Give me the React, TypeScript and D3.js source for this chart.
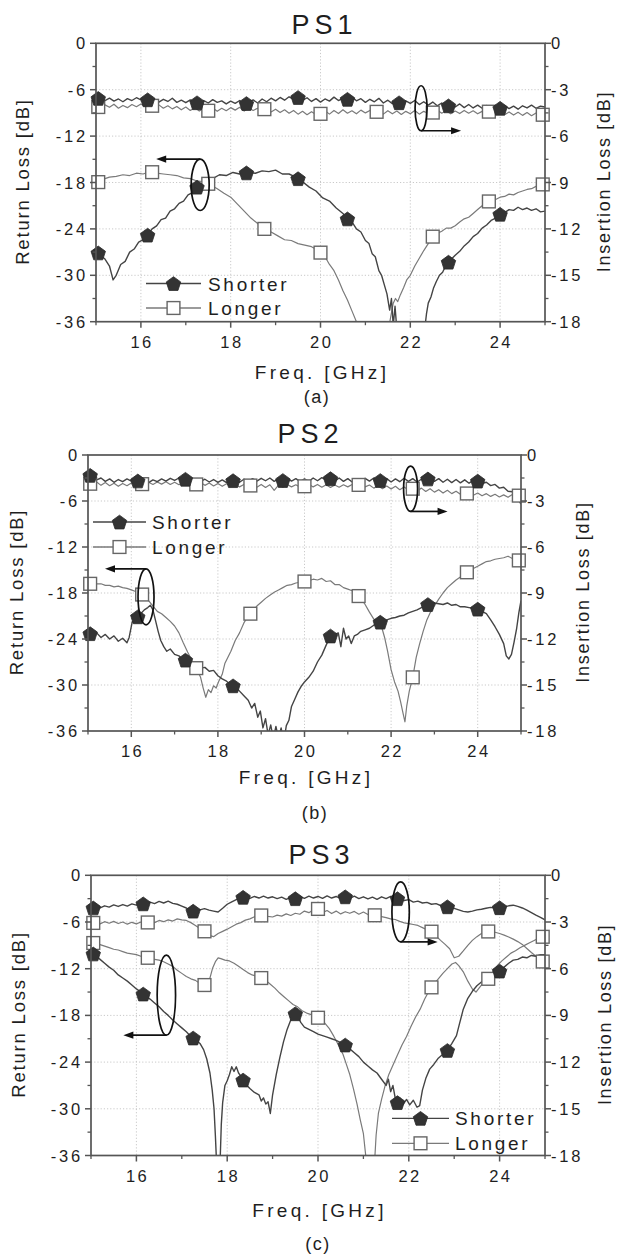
import React from "react";
import * as d3 from "d3";

// ---------------- DATA ----------------
const panelTitles = ["PS1", "PS2", "PS3"];
const panelCaptions = ["(a)", "(b)", "(c)"];
const seriesNames = ["Shorter", "Longer"];
const xTicks = [16, 18, 20, 22, 24];
const xMinorTicks = [15, 17, 19, 21, 23, 25];
const rlTicks = [0, -6, -12, -18, -24, -30, -36];
const rlMinorTicks = [-3, -9, -15, -21, -27, -33];
const ilTicks = [0, -3, -6, -9, -12, -15, -18];
const ilMinorTicks = [-1.5, -4.5, -7.5, -10.5, -13.5, -16.5];
const shorterMarkerFreqs = [15.05, 16.15, 17.25, 18.35, 19.5, 20.6, 21.75, 22.85, 24.0];
const longerMarkerFreqs = [15.05, 16.25, 17.5, 18.75, 20.0, 21.25, 22.5, 23.75, 24.95];

// insertion-loss traces sampled every 0.1 GHz from 15 to 25 GHz
const ilFreqs = d3.range(101).map((i) => +(15 + i * 0.1).toFixed(1));

const ps1ShorterIL = [-3.50,-3.62,-3.70,-3.55,-3.74,-3.60,-3.78,-3.58,-3.70,-3.52, -3.66,-3.58,-3.72,-3.60,-3.80,-3.62,-3.76,-3.55,-3.82,-3.68, -3.84,-3.66,-3.78,-3.90,-3.70,-3.86,-3.64,-3.82,-3.72,-3.92, -3.74,-3.88,-3.70,-3.94,-3.84,-3.66,-3.86,-3.60,-3.78,-3.55, -3.72,-3.50,-3.68,-3.46,-3.62,-3.50,-3.70,-3.52,-3.76,-3.58, -3.80,-3.60,-3.74,-3.48,-3.70,-3.55,-3.62,-3.46,-3.72,-3.58, -3.82,-3.62,-3.78,-3.56,-3.86,-3.68,-3.90,-3.76,-3.92,-3.72, -3.88,-3.70,-3.96,-3.78,-4.00,-3.80,-4.04,-3.86,-4.10,-3.98, -4.12,-3.92,-4.16,-3.96,-4.18,-4.00,-4.20,-4.02,-4.24,-4.06, -4.20,-4.02,-4.22,-4.06,-4.26,-4.04,-4.18,-4.00,-4.20,-4.06,-4.12];
const ps1LongerIL = [-4.06,-4.18,-3.98,-4.14,-3.94,-4.20,-4.02,-4.16,-3.96,-4.10, -3.92,-4.08,-3.96,-4.12,-3.98,-4.20,-4.04,-4.24,-4.08,-4.30, -4.12,-4.34,-4.16,-4.38,-4.22,-4.36,-4.18,-4.40,-4.20,-4.36, -4.16,-4.32,-4.14,-4.38,-4.18,-4.34,-4.20,-4.30,-4.22,-4.44, -4.26,-4.48,-4.30,-4.52,-4.34,-4.58,-4.40,-4.62,-4.42,-4.60, -4.56,-4.36,-4.58,-4.34,-4.54,-4.30,-4.52,-4.36,-4.56,-4.32, -4.50,-4.34,-4.46,-4.40,-4.58,-4.36,-4.56,-4.38,-4.60,-4.40, -4.56,-4.34,-4.58,-4.40,-4.54,-4.48,-4.32,-4.52,-4.36,-4.56, -4.38,-4.54,-4.34,-4.52,-4.36,-4.56,-4.40,-4.46,-4.38,-4.58, -4.42,-4.62,-4.44,-4.64,-4.46,-4.66,-4.48,-4.68,-4.50,-4.64,-4.60];

const ps2ShorterIL = [-1.20,-1.45,-1.62,-1.50,-1.72,-1.56,-1.78,-1.60,-1.74,-1.56, -1.70,-1.62,-1.76,-1.58,-1.80,-1.62,-1.74,-1.56,-1.70,-1.52, -1.66,-1.50,-1.64,-1.52,-1.70,-1.56,-1.74,-1.58,-1.76,-1.60, -1.78,-1.62,-1.80,-1.74,-1.60,-1.78,-1.58,-1.74,-1.54,-1.70, -1.52,-1.68,-1.50,-1.72,-1.56,-1.66,-1.50,-1.70,-1.54,-1.74, -1.56,-1.72,-1.50,-1.68,-1.48,-1.64,-1.54,-1.70,-1.50,-1.72, -1.54,-1.76,-1.56,-1.74,-1.52,-1.70,-1.50,-1.60,-1.72,-1.54, -1.76,-1.56,-1.74,-1.52,-1.72,-1.54,-1.76,-1.58,-1.62,-1.50, -1.72,-1.54,-1.78,-1.58,-1.80,-1.60,-1.82,-1.62,-1.84,-1.66, -1.70,-1.86,-1.78,-2.00,-1.92,-2.16,-2.10,-2.36,-2.40,-2.76,-3.20];
const ps2LongerIL = [-1.80,-1.95,-1.76,-1.98,-1.80,-2.00,-1.84,-2.04,-1.86,-2.00, -1.82,-1.98,-1.86,-1.94,-1.78,-1.92,-1.76,-1.90,-1.74,-1.92, -1.78,-1.94,-1.80,-1.96,-1.84,-1.92,-1.80,-1.98,-1.82,-2.02, -1.86,-2.04,-1.88,-2.06,-1.90,-2.08,-1.92,-2.04,-1.94,-2.10, -1.92,-2.12,-1.94,-2.30,-1.96,-2.10,-1.92,-2.08,-1.94,-2.10, -2.04,-1.90,-2.08,-1.92,-2.10,-1.94,-2.12,-1.96,-2.10,-1.94, -2.08,-1.92,-2.00,-1.90,-2.08,-1.96,-2.16,-2.00,-2.20,-2.02, -2.22,-2.04,-2.26,-2.08,-2.28,-2.20,-2.34,-2.16,-2.38,-2.20, -2.42,-2.26,-2.48,-2.30,-2.52,-2.36,-2.56,-2.58,-2.44,-2.62, -2.48,-2.66,-2.52,-2.70,-2.56,-2.74,-2.60,-2.76,-2.58,-2.50,-2.80];

const ps3ShorterIL = [-2.15,-2.04,-2.10,-1.96,-2.04,-1.90,-2.00,-1.88,-1.98,-1.84, -1.92,-1.80,-1.86,-1.72,-1.82,-1.68,-1.78,-1.66,-1.80,-1.86, -1.98,-2.10,-2.28,-2.32,-2.22,-2.14,-2.24,-2.30,-2.36,-2.12, -1.86,-1.70,-1.56,-1.44,-1.38,-1.48,-1.36,-1.46,-1.34,-1.46, -1.38,-1.50,-1.40,-1.54,-1.42,-1.50,-1.36,-1.48,-1.34,-1.46, -1.36,-1.48,-1.32,-1.46,-1.36,-1.50,-1.38,-1.48,-1.34,-1.50, -1.38,-1.52,-1.40,-1.54,-1.38,-1.50,-1.36,-1.52,-1.48,-1.62, -1.56,-1.72,-1.66,-1.78,-1.74,-1.86,-1.82,-1.94,-1.98,-2.06, -2.12,-2.22,-2.32,-2.36,-2.30,-2.22,-2.18,-2.12,-2.06,-2.10, -2.08,-2.02,-1.96,-1.92,-2.00,-2.10,-2.24,-2.40,-2.56,-2.70,-2.86];
const ps3LongerIL = [-3.10,-3.02,-3.12,-2.98,-3.08,-2.96,-3.10,-3.00,-3.14,-3.02, -3.12,-3.00,-3.10,-2.96,-3.04,-2.90,-2.98,-2.86,-2.94,-2.80, -2.86,-2.90,-3.04,-3.22,-3.42,-3.60,-3.86,-3.94,-3.74,-3.60, -3.46,-3.30,-3.14,-3.04,-2.88,-2.80,-2.66,-2.60,-2.56,-2.64, -2.68,-2.56,-2.62,-2.48,-2.58,-2.44,-2.50,-2.30,-2.40,-2.22, -2.16,-2.40,-2.26,-2.46,-2.30,-2.48,-2.34,-2.44,-2.32,-2.50, -2.36,-2.52,-2.54,-2.60,-2.66,-2.72,-2.80,-2.84,-2.96,-3.06, -3.10,-3.16,-3.22,-3.36,-3.50,-3.62,-3.90,-4.18,-4.44,-4.72, -5.30,-5.20,-4.86,-4.50,-4.18,-3.94,-3.74,-3.62,-3.60,-3.66, -3.74,-3.84,-3.96,-4.10,-4.26,-4.44,-4.70,-4.96,-5.20,-5.44,-5.64];

// return-loss traces: [frequency GHz, dB]
const ps1ShorterRL: [number, number][] = [[15.0,-26.8],[15.1,-27.4],[15.2,-27.9],[15.3,-28.8],[15.38,-30.6],[15.45,-30.0],[15.55,-28.6],[15.65,-28.2],[15.75,-27.0],[15.85,-26.6],[15.95,-25.7],[16.05,-25.4],[16.15,-24.8],[16.25,-24.0],[16.35,-23.6],[16.45,-22.8],[16.55,-22.6],[16.65,-21.7],[16.75,-21.4],[16.85,-20.7],[16.95,-20.4],[17.05,-19.6],[17.15,-19.3],[17.25,-18.6],[17.35,-18.3],[17.45,-17.8],[17.6,-17.5],[17.75,-17.0],[17.9,-17.1],[18.05,-16.7],[18.2,-16.9],[18.4,-16.7],[18.55,-16.8],[18.7,-16.5],[18.85,-16.6],[19.0,-16.4],[19.15,-16.9],[19.3,-16.9],[19.45,-17.3],[19.6,-17.9],[19.75,-18.6],[19.9,-19.1],[20.05,-20.0],[20.2,-20.4],[20.35,-21.3],[20.5,-22.0],[20.6,-22.7],[20.7,-23.1],[20.8,-24.0],[20.9,-24.4],[21.0,-25.5],[21.08,-25.9],[21.15,-27.2],[21.22,-27.6],[21.3,-29.4],[21.36,-30.0],[21.42,-31.2],[21.48,-32.4],[21.54,-34.5],[21.58,-33.0],[21.62,-36.5],[21.66,-34.0],[21.7,-37.0],[21.74,-36.5],[21.78,-38.0],[22.3,-38.0],[22.36,-35.0],[22.4,-33.6],[22.46,-32.8],[22.52,-31.6],[22.58,-30.8],[22.65,-30.0],[22.72,-29.6],[22.8,-28.6],[22.9,-28.0],[23.0,-27.4],[23.1,-26.9],[23.2,-26.2],[23.3,-25.7],[23.4,-25.0],[23.5,-24.6],[23.6,-23.9],[23.7,-23.5],[23.8,-22.9],[23.9,-22.6],[24.0,-22.1],[24.1,-21.9],[24.2,-21.5],[24.3,-21.6],[24.4,-21.2],[24.5,-21.5],[24.6,-21.3],[24.7,-21.6],[24.8,-21.4],[24.9,-21.8],[25.0,-21.7]];
const ps1LongerRL: [number, number][] = [[15.0,-18.1],[15.1,-17.8],[15.2,-17.5],[15.3,-17.3],[15.45,-17.2],[15.6,-17.0],[15.75,-17.1],[15.9,-16.8],[16.05,-16.9],[16.2,-16.6],[16.35,-16.8],[16.5,-16.9],[16.65,-17.0],[16.8,-17.1],[16.95,-17.4],[17.1,-17.5],[17.25,-17.8],[17.4,-17.9],[17.55,-18.3],[17.7,-18.8],[17.85,-19.4],[18.0,-19.9],[18.15,-20.8],[18.3,-21.7],[18.45,-22.6],[18.6,-23.3],[18.75,-24.0],[18.9,-24.4],[19.05,-24.9],[19.2,-25.4],[19.35,-25.5],[19.5,-25.9],[19.65,-26.1],[19.8,-26.3],[19.95,-26.8],[20.1,-27.6],[20.2,-28.6],[20.3,-29.4],[20.4,-30.6],[20.5,-32.0],[20.6,-33.2],[20.7,-34.6],[20.8,-36.0],[20.9,-37.5],[21.5,-37.5],[21.56,-35.5],[21.62,-33.6],[21.67,-33.0],[21.72,-33.4],[21.78,-32.5],[21.85,-31.6],[21.92,-30.6],[22.0,-30.0],[22.1,-28.8],[22.2,-27.8],[22.3,-26.8],[22.4,-25.9],[22.5,-25.0],[22.6,-24.6],[22.7,-24.3],[22.8,-23.9],[22.9,-23.9],[23.0,-23.6],[23.1,-23.1],[23.2,-22.7],[23.3,-22.5],[23.4,-22.0],[23.5,-21.5],[23.6,-21.0],[23.7,-20.6],[23.8,-20.3],[23.9,-20.2],[24.0,-19.9],[24.1,-19.8],[24.2,-19.5],[24.3,-19.6],[24.4,-19.3],[24.5,-19.1],[24.6,-18.9],[24.7,-18.8],[24.8,-18.5],[24.9,-18.4],[25.0,-18.1]];

const ps2ShorterRL: [number, number][] = [[15.0,-23.0],[15.1,-23.6],[15.2,-23.2],[15.3,-23.8],[15.4,-23.4],[15.5,-24.0],[15.6,-23.6],[15.7,-24.3],[15.8,-23.9],[15.9,-24.5],[15.95,-23.8],[16.02,-21.8],[16.1,-21.4],[16.2,-20.8],[16.3,-20.2],[16.38,-19.9],[16.44,-19.6],[16.5,-20.2],[16.56,-21.6],[16.62,-23.0],[16.68,-24.2],[16.75,-25.0],[16.82,-25.6],[16.9,-25.3],[17.0,-26.0],[17.1,-26.2],[17.2,-26.7],[17.3,-26.8],[17.4,-27.2],[17.5,-27.3],[17.6,-27.8],[17.7,-27.7],[17.8,-28.2],[17.9,-28.1],[18.0,-28.8],[18.1,-29.2],[18.2,-29.5],[18.3,-30.0],[18.4,-30.2],[18.5,-30.8],[18.6,-31.4],[18.7,-32.0],[18.78,-33.0],[18.85,-32.4],[18.92,-34.2],[18.98,-33.4],[19.04,-35.6],[19.1,-34.4],[19.16,-36.5],[19.22,-35.2],[19.28,-37.0],[19.34,-35.4],[19.4,-37.0],[19.46,-35.6],[19.52,-37.5],[19.58,-35.3],[19.64,-34.6],[19.7,-32.8],[19.78,-31.8],[19.85,-30.9],[19.92,-30.2],[20.0,-29.6],[20.1,-29.0],[20.2,-28.2],[20.3,-27.0],[20.4,-26.1],[20.5,-24.8],[20.6,-23.6],[20.7,-23.4],[20.78,-23.2],[20.84,-25.0],[20.9,-22.6],[20.96,-24.0],[21.02,-23.6],[21.08,-24.6],[21.15,-23.6],[21.22,-23.4],[21.3,-23.0],[21.4,-22.8],[21.5,-22.6],[21.6,-22.2],[21.7,-21.9],[21.8,-21.7],[21.9,-21.5],[22.0,-21.3],[22.1,-21.2],[22.2,-21.0],[22.3,-20.9],[22.4,-20.6],[22.5,-20.4],[22.6,-20.2],[22.7,-19.9],[22.8,-19.6],[22.9,-19.4],[23.0,-19.3],[23.1,-19.4],[23.2,-19.5],[23.3,-19.3],[23.4,-19.6],[23.5,-19.5],[23.6,-19.8],[23.7,-19.8],[23.8,-19.9],[23.9,-20.0],[24.0,-20.1],[24.1,-20.4],[24.2,-20.7],[24.3,-21.5],[24.4,-22.4],[24.5,-23.4],[24.6,-24.6],[24.66,-26.2],[24.72,-26.6],[24.78,-26.0],[24.84,-24.4],[24.9,-22.6],[24.95,-20.6],[25.0,-19.0]];
const ps2LongerRL: [number, number][] = [[15.0,-16.9],[15.1,-16.7],[15.2,-16.8],[15.3,-16.8],[15.4,-17.0],[15.5,-17.0],[15.6,-17.2],[15.7,-17.1],[15.8,-17.3],[15.9,-17.4],[16.0,-17.6],[16.1,-17.8],[16.2,-18.0],[16.3,-18.4],[16.4,-19.0],[16.5,-19.7],[16.6,-20.4],[16.7,-20.7],[16.8,-21.2],[16.9,-21.7],[17.0,-22.3],[17.1,-23.2],[17.2,-24.5],[17.3,-25.7],[17.4,-26.8],[17.5,-27.8],[17.6,-29.0],[17.66,-30.4],[17.72,-31.6],[17.78,-30.6],[17.84,-31.0],[17.9,-30.1],[17.96,-30.4],[18.02,-29.5],[18.1,-28.6],[18.16,-27.2],[18.22,-26.5],[18.3,-25.6],[18.4,-24.2],[18.5,-23.2],[18.6,-21.9],[18.7,-21.0],[18.8,-20.4],[18.9,-19.7],[19.0,-19.2],[19.1,-18.7],[19.2,-18.3],[19.3,-17.9],[19.4,-17.6],[19.5,-17.3],[19.6,-17.0],[19.7,-16.9],[19.8,-16.7],[19.9,-16.6],[20.0,-16.5],[20.1,-16.4],[20.2,-16.2],[20.3,-16.3],[20.4,-16.1],[20.5,-16.5],[20.6,-16.4],[20.7,-16.9],[20.8,-16.9],[20.9,-17.3],[21.0,-17.5],[21.1,-17.7],[21.2,-18.1],[21.3,-18.7],[21.4,-19.5],[21.5,-20.5],[21.6,-21.4],[21.7,-21.9],[21.78,-22.4],[21.85,-23.8],[21.92,-25.6],[22.0,-28.0],[22.08,-29.6],[22.16,-30.8],[22.22,-32.2],[22.28,-33.8],[22.32,-34.8],[22.36,-32.8],[22.42,-30.8],[22.5,-29.0],[22.58,-26.4],[22.66,-24.6],[22.74,-23.0],[22.82,-21.6],[22.9,-20.6],[23.0,-19.7],[23.1,-18.8],[23.2,-18.0],[23.3,-17.3],[23.4,-16.8],[23.5,-16.3],[23.6,-15.9],[23.7,-15.5],[23.8,-15.1],[23.9,-14.8],[24.0,-14.5],[24.1,-14.2],[24.2,-13.9],[24.3,-13.8],[24.4,-13.6],[24.5,-13.5],[24.6,-13.4],[24.7,-13.2],[24.8,-13.5],[24.9,-13.7],[25.0,-13.8]];

const ps3ShorterRL: [number, number][] = [[15.0,-9.9],[15.1,-10.3],[15.2,-10.8],[15.3,-11.3],[15.4,-11.8],[15.5,-12.2],[15.6,-12.8],[15.7,-13.2],[15.8,-13.6],[15.9,-14.1],[16.0,-14.6],[16.1,-15.0],[16.2,-15.5],[16.3,-15.9],[16.4,-16.4],[16.5,-16.9],[16.6,-17.5],[16.7,-18.0],[16.8,-18.6],[16.9,-19.1],[17.0,-19.6],[17.1,-20.1],[17.2,-20.7],[17.3,-21.1],[17.4,-21.6],[17.48,-22.4],[17.55,-23.6],[17.62,-25.4],[17.67,-27.6],[17.71,-30.0],[17.74,-33.5],[17.77,-37.5],[17.84,-37.5],[17.87,-32.0],[17.9,-29.2],[17.95,-27.0],[18.0,-26.4],[18.05,-25.6],[18.1,-24.6],[18.15,-25.2],[18.2,-24.6],[18.25,-25.4],[18.3,-25.8],[18.4,-26.8],[18.5,-27.4],[18.6,-27.9],[18.7,-28.2],[18.75,-29.0],[18.8,-28.6],[18.85,-29.4],[18.9,-29.1],[18.95,-30.6],[19.0,-28.2],[19.08,-25.6],[19.16,-23.4],[19.24,-21.4],[19.32,-19.8],[19.4,-18.6],[19.48,-17.7],[19.55,-18.0],[19.62,-18.9],[19.7,-19.5],[19.8,-19.8],[19.9,-20.1],[20.0,-20.4],[20.1,-20.6],[20.2,-20.8],[20.3,-21.0],[20.4,-21.2],[20.5,-21.5],[20.6,-21.8],[20.7,-22.3],[20.8,-22.8],[20.9,-23.3],[21.0,-24.0],[21.1,-24.5],[21.2,-25.0],[21.3,-25.4],[21.4,-26.2],[21.5,-27.0],[21.55,-26.2],[21.6,-27.8],[21.65,-27.0],[21.7,-28.6],[21.75,-29.2],[21.8,-28.6],[21.88,-29.4],[21.95,-28.8],[22.02,-29.5],[22.1,-28.9],[22.18,-29.8],[22.24,-29.6],[22.3,-27.6],[22.38,-26.0],[22.46,-24.9],[22.55,-24.3],[22.65,-23.5],[22.75,-23.0],[22.85,-22.5],[22.95,-21.6],[23.05,-20.6],[23.12,-19.0],[23.2,-17.2],[23.3,-15.8],[23.4,-14.9],[23.5,-14.2],[23.6,-13.7],[23.7,-13.2],[23.8,-12.8],[23.9,-12.6],[24.0,-12.3],[24.1,-11.8],[24.2,-11.3],[24.3,-10.9],[24.4,-10.8],[24.5,-10.5],[24.6,-10.6],[24.7,-10.3],[24.8,-10.4],[24.9,-10.2],[25.0,-10.2]];
const ps3LongerRL: [number, number][] = [[15.0,-8.6],[15.1,-8.8],[15.2,-8.9],[15.3,-9.1],[15.4,-9.3],[15.5,-9.5],[15.6,-9.6],[15.7,-9.8],[15.8,-10.0],[15.9,-10.1],[16.0,-10.2],[16.1,-10.4],[16.2,-10.5],[16.3,-10.7],[16.4,-10.8],[16.5,-10.9],[16.6,-11.1],[16.7,-11.4],[16.8,-11.7],[16.9,-12.2],[17.0,-12.6],[17.1,-13.0],[17.2,-13.3],[17.3,-13.5],[17.4,-13.9],[17.5,-14.1],[17.56,-14.4],[17.62,-13.2],[17.68,-11.9],[17.74,-11.1],[17.8,-10.6],[17.86,-10.7],[17.95,-10.9],[18.05,-11.0],[18.15,-11.3],[18.25,-11.7],[18.35,-12.1],[18.45,-12.5],[18.55,-12.8],[18.65,-13.0],[18.75,-13.2],[18.85,-13.5],[18.95,-14.0],[19.05,-14.5],[19.15,-15.1],[19.25,-15.6],[19.35,-16.1],[19.45,-16.6],[19.55,-16.9],[19.65,-17.4],[19.75,-17.7],[19.85,-17.9],[19.95,-18.2],[20.05,-18.4],[20.15,-19.0],[20.25,-19.7],[20.35,-20.7],[20.45,-21.8],[20.55,-23.0],[20.62,-24.2],[20.7,-25.6],[20.78,-27.4],[20.86,-29.4],[20.93,-31.4],[21.0,-33.2],[21.04,-35.4],[21.08,-37.5],[21.24,-37.5],[21.28,-33.4],[21.33,-30.6],[21.4,-28.8],[21.48,-27.0],[21.56,-25.6],[21.65,-24.4],[21.75,-23.1],[21.85,-21.8],[21.95,-20.7],[22.05,-19.4],[22.15,-18.2],[22.25,-17.2],[22.35,-15.9],[22.45,-14.8],[22.55,-14.0],[22.65,-13.3],[22.75,-12.6],[22.85,-12.0],[22.95,-11.4],[23.03,-11.2],[23.1,-11.6],[23.2,-12.4],[23.3,-13.6],[23.4,-14.6],[23.48,-15.0],[23.56,-14.4],[23.66,-13.7],[23.75,-13.3],[23.85,-12.4],[23.95,-11.6],[24.05,-11.0],[24.15,-10.5],[24.25,-10.0],[24.35,-9.7],[24.45,-9.3],[24.55,-9.0],[24.65,-8.7],[24.75,-8.4],[24.85,-8.1],[24.95,-7.9],[25.0,-7.8]];

// ---------------- LAYOUT / STYLE ----------------
const W = 617;
const H = 1256;
const FONT = "'Liberation Sans', Arial, Helvetica, sans-serif";
const SHORT_LINE = "#444";
const LONG_LINE = "#7a7a7a";

type Ann = { f: number; v: number; rx: number; ry: number; from: "top" | "bottom"; dir: 1 | -1; len: number };
type Layout = {
  left: number; right: number; top: number; bottom: number;
  titleX: number; titleY: number; xLabelY: number; captionX: number; captionY: number;
  yTitleX: number; y2TitleX: number;
  legend: { x0: number; x1: number; rows: number[]; textX: number };
  ann: Ann[];
};

const layouts: Layout[] = [
  {
    left: 96, right: 545, top: 43.3, bottom: 321.7, titleX: 322, titleY: 34, xLabelY: 379,
    captionX: 316, captionY: 403, yTitleX: 22, y2TitleX: 604,
    legend: { x0: 146, x1: 201, rows: [283.5, 308], textX: 208 },
    ann: [
      { f: 22.24, v: -8.4, rx: 6, ry: 22.5, from: "bottom", dir: 1, len: 40 },
      { f: 17.32, v: -18.3, rx: 9, ry: 25.7, from: "top", dir: -1, len: 44 },
    ],
  },
  {
    left: 88, right: 521, top: 455, bottom: 731, titleX: 308, titleY: 443, xLabelY: 784,
    captionX: 314, captionY: 819, yTitleX: 16, y2TitleX: 583,
    legend: { x0: 93, x1: 146, rows: [522, 547], textX: 152 },
    ann: [
      { f: 22.45, v: -4.4, rx: 7, ry: 22.7, from: "bottom", dir: 1, len: 37 },
      { f: 16.34, v: -18.5, rx: 8, ry: 28, from: "top", dir: -1, len: 41 },
    ],
  },
  {
    left: 91, right: 545, top: 875.3, bottom: 1155.5, titleX: 319, titleY: 864, xLabelY: 1217,
    captionX: 317, captionY: 1250, yTitleX: 18, y2TitleX: 605,
    legend: { x0: 392, x1: 449, rows: [1118.3, 1143.3], textX: 455 },
    ann: [
      { f: 21.82, v: -4.7, rx: 8.7, ry: 30, from: "bottom", dir: 1, len: 37 },
      { f: 16.66, v: -15.4, rx: 9.2, ry: 40, from: "bottom", dir: -1, len: 43 },
    ],
  },
];

const panelData = [
  { sRL: ps1ShorterRL, lRL: ps1LongerRL, sIL: ps1ShorterIL, lIL: ps1LongerIL },
  { sRL: ps2ShorterRL, lRL: ps2LongerRL, sIL: ps2ShorterIL, lIL: ps2LongerIL },
  { sRL: ps3ShorterRL, lRL: ps3LongerRL, sIL: ps3ShorterIL, lIL: ps3LongerIL },
];

function valueAt(pts: [number, number][], f: number): number {
  const i = d3.bisector((d: [number, number]) => d[0]).left(pts, f);
  if (i <= 0) return pts[0][1];
  if (i >= pts.length) return pts[pts.length - 1][1];
  const [f0, v0] = pts[i - 1];
  const [f1, v1] = pts[i];
  return v0 + ((v1 - v0) * (f - f0)) / (f1 - f0);
}

function pentagon(cx: number, cy: number, r: number): string {
  const pts = d3.range(5).map((k) => {
    const a = ((-90 + k * 72) * Math.PI) / 180;
    return [cx + r * Math.cos(a), cy + r * Math.sin(a)];
  });
  return "M" + pts.map((p) => p.join(",")).join("L") + "Z";
}

function Pent({ x, y }: { x: number; y: number }) {
  return <path d={pentagon(x, y + 0.8, 7.6)} fill="#333" stroke="#2a2a2a" strokeWidth={0.8} />;
}
function Sq({ x, y }: { x: number; y: number }) {
  return <rect x={x - 6.4} y={y - 6.4} width={12.8} height={12.8} fill="#fff" stroke="#666" strokeWidth={1.4} />;
}

const txt = { fontFamily: FONT, fill: "#1e1e1e" } as const;

function Panel({ idx }: { idx: number }) {
  const L = layouts[idx];
  const D = panelData[idx];
  const x = d3.scaleLinear().domain([15, 25]).range([L.left, L.right]);
  const yL = d3.scaleLinear().domain([-36, 0]).range([L.bottom, L.top]);
  const yR = d3.scaleLinear().domain([-18, 0]).range([L.bottom, L.top]);

  const lineL = d3.line<[number, number]>().x((d) => x(d[0])).y((d) => yL(d[1]));
  const ilPts = (arr: number[]) => arr.map((v, i) => [ilFreqs[i], v] as [number, number]);
  const lineR = d3.line<[number, number]>().x((d) => x(d[0])).y((d) => yR(d[1]));

  const sILpts = ilPts(D.sIL);
  const lILpts = ilPts(D.lIL);
  const clipId = `clip${idx}`;
  const cx = (L.left + L.right) / 2;
  const cy = (L.top + L.bottom) / 2;

  const markers: React.ReactNode[] = [];
  const addMarkers = (pts: [number, number][], freqs: number[], scale: (v: number) => number, min: number, kind: "s" | "l", key: string) => {
    freqs.forEach((f, i) => {
      const v = valueAt(pts, f);
      if (v < min) return;
      const px = x(f);
      const py = scale(v);
      markers.push(kind === "s" ? <Pent key={key + i} x={px} y={py} /> : <Sq key={key + i} x={px} y={py} />);
    });
  };
  addMarkers(lILpts, longerMarkerFreqs, yR, -18, "l", "lil");
  addMarkers(D.lRL, longerMarkerFreqs, yL, -36, "l", "lrl");
  addMarkers(sILpts, shorterMarkerFreqs, yR, -18, "s", "sil");
  addMarkers(D.sRL, shorterMarkerFreqs, yL, -36, "s", "srl");

  return (
    <g>
      <defs>
        <clipPath id={clipId}>
          <rect x={L.left} y={L.top} width={L.right - L.left} height={L.bottom - L.top} />
        </clipPath>
      </defs>
      {/* grid */}
      {xTicks.map((t) => (
        <line key={"gx" + t} x1={x(t)} x2={x(t)} y1={L.top} y2={L.bottom} stroke="#c9c9c9" strokeWidth={1} strokeDasharray="1.2,2" />
      ))}
      {rlTicks.slice(1, -1).map((t) => (
        <line key={"gy" + t} x1={L.left} x2={L.right} y1={yL(t)} y2={yL(t)} stroke="#c9c9c9" strokeWidth={1} strokeDasharray="1.2,2" />
      ))}
      {/* curves */}
      <g clipPath={`url(#${clipId})`} fill="none" strokeLinejoin="round">
        <path d={lineL(D.lRL) || ""} stroke={LONG_LINE} strokeWidth={1.2} />
        <path d={lineR(lILpts) || ""} stroke={LONG_LINE} strokeWidth={1.2} />
        <path d={lineL(D.sRL) || ""} stroke={SHORT_LINE} strokeWidth={1.4} />
        <path d={lineR(sILpts) || ""} stroke={SHORT_LINE} strokeWidth={1.4} />
      </g>
      {markers}
      {/* frame */}
      <rect x={L.left} y={L.top} width={L.right - L.left} height={L.bottom - L.top} fill="none" stroke="#555" strokeWidth={1.7} />
      {/* ticks */}
      {xTicks.map((t) => (
        <line key={"tx" + t} x1={x(t)} x2={x(t)} y1={L.bottom} y2={L.bottom + 6} stroke="#555" strokeWidth={1.5} />
      ))}
      {xMinorTicks.map((t) => (
        <line key={"mx" + t} x1={x(t)} x2={x(t)} y1={L.bottom} y2={L.bottom + 3.5} stroke="#555" strokeWidth={1.3} />
      ))}
      {rlTicks.map((t) => (
        <line key={"tl" + t} x1={L.left - 6} x2={L.left} y1={yL(t)} y2={yL(t)} stroke="#555" strokeWidth={1.5} />
      ))}
      {rlMinorTicks.map((t) => (
        <line key={"ml" + t} x1={L.left - 3.5} x2={L.left} y1={yL(t)} y2={yL(t)} stroke="#555" strokeWidth={1.3} />
      ))}
      {ilTicks.map((t) => (
        <line key={"tr" + t} x1={L.right} x2={L.right + 6} y1={yR(t)} y2={yR(t)} stroke="#555" strokeWidth={1.5} />
      ))}
      {ilMinorTicks.map((t) => (
        <line key={"mr" + t} x1={L.right} x2={L.right + 3.5} y1={yR(t)} y2={yR(t)} stroke="#555" strokeWidth={1.3} />
      ))}
      {/* tick labels */}
      {xTicks.map((t) => (
        <text key={"lx" + t} x={x(t) + 1.2} y={L.bottom + 26} textAnchor="middle" fontSize={16.5} letterSpacing={2.4} style={txt}>
          {t}
        </text>
      ))}
      {rlTicks.map((t) => (
        <text key={"ll" + t} x={L.left - 8} y={yL(t) + 6} textAnchor="end" fontSize={16.5} letterSpacing={2.8} style={txt}>
          {t}
        </text>
      ))}
      {ilTicks.map((t) => (
        <text key={"lr" + t} x={L.right + 6} y={yR(t) + 6} textAnchor="start" fontSize={16.5} letterSpacing={2.8} style={txt}>
          {t}
        </text>
      ))}
      {/* titles */}
      <text x={L.titleX + 2.5} y={L.titleY} textAnchor="middle" fontSize={27} letterSpacing={5} style={txt}>
        {panelTitles[idx]}
      </text>
      <text x={cx + 1.5} y={L.xLabelY} textAnchor="middle" fontSize={19} letterSpacing={3.3} style={txt}>
        Freq. [GHz]
      </text>
      <text x={L.captionX + 1} y={L.captionY} textAnchor="middle" fontSize={18} letterSpacing={1.5} style={txt}>
        {panelCaptions[idx]}
      </text>
      <text transform={`translate(${L.yTitleX},${cy}) rotate(-90)`} x={1} y={6.8} textAnchor="middle" fontSize={18.5} letterSpacing={1.8} style={txt}>
        Return Loss [dB]
      </text>
      <text transform={`translate(${L.y2TitleX},${cy}) rotate(-90)`} x={1} y={6.3} textAnchor="middle" fontSize={18} letterSpacing={1.7} style={txt}>
        Insertion Loss [dB]
      </text>
      {/* legend */}
      {seriesNames.map((name, i) => {
        const ry = L.legend.rows[i];
        const mx = (L.legend.x0 + L.legend.x1) / 2;
        return (
          <g key={name}>
            <line x1={L.legend.x0} x2={L.legend.x1} y1={ry} y2={ry} stroke={i === 0 ? SHORT_LINE : LONG_LINE} strokeWidth={1.3} />
            {i === 0 ? <Pent x={mx} y={ry} /> : <Sq x={mx} y={ry} />}
            <text x={L.legend.textX} y={ry + 7} fontSize={19} letterSpacing={2.7} style={txt}>
              {name}
            </text>
          </g>
        );
      })}
      {/* annotations */}
      {L.ann.map((a, i) => {
        const ex = x(a.f);
        const ey = yL(a.v);
        const ay = a.from === "top" ? ey - a.ry : ey + a.ry;
        const tip = ex + a.dir * a.len;
        const head = `M${tip},${ay}L${tip - a.dir * 10},${ay - 3.6}L${tip - a.dir * 10},${ay + 3.6}Z`;
        return (
          <g key={"ann" + i}>
            <ellipse cx={ex} cy={ey} rx={a.rx} ry={a.ry} fill="none" stroke="#111" strokeWidth={1.7} />
            <line x1={ex} x2={tip - a.dir * 8} y1={ay} y2={ay} stroke="#111" strokeWidth={1.7} />
            <path d={head} fill="#111" />
          </g>
        );
      })}
    </g>
  );
}

export default function App() {
  return (
    <svg width={W} height={H} viewBox={`0 0 ${W} ${H}`} style={{ position: "absolute", left: 0, top: 0, background: "#fff" }}>
      <rect width={W} height={H} fill="#fff" />
      {panelTitles.map((_, i) => (
        <Panel key={i} idx={i} />
      ))}
    </svg>
  );
}
